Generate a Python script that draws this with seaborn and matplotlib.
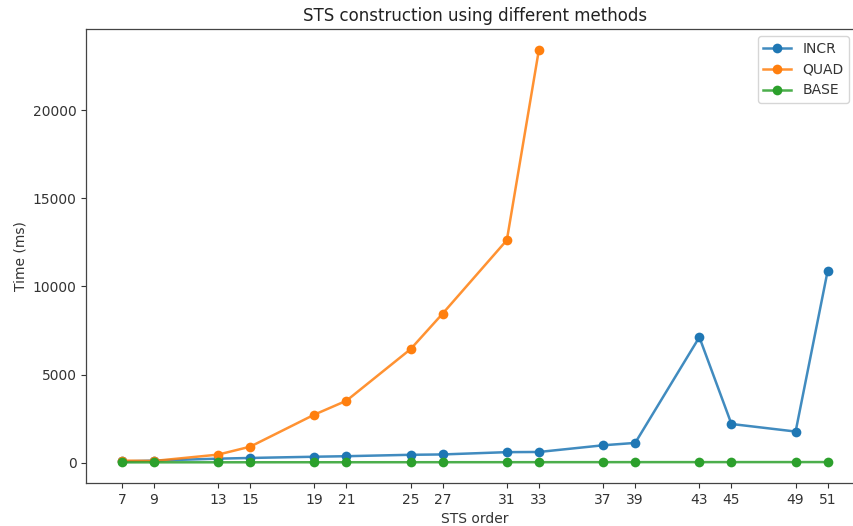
import matplotlib
matplotlib.use("Agg")
import matplotlib.pyplot as plt
import matplotlib.colors as mcolors
import seaborn as sns
import pandas as pd

# STS orders (v ≡ 1 or 3 mod 6)
orders = [7, 9, 13, 15, 19, 21, 25, 27, 31, 33, 37, 39, 43, 45, 49, 51]

# Construction times in milliseconds
incr_ms = [60, 110, 220, 260, 330, 360, 440, 460, 590, 600, 980, 1115, 7120, 2190, 1760, 10900]
quad_ms = [110, 90, 450, 900, 2720, 3510, 6440, 8460, 12630, 23450]
base_ms = [10, 12, 14, 15, 16, 17, 18, 19, 20, 21, 22, 23, 24, 25, 26, 27]

methods = ["INCR", "QUAD", "BASE"]
colors = ["#1f77b4", "#ff7f0e", "#2ca02c"]

frames = [
    pd.DataFrame({"order": orders, "time": incr_ms, "method": "INCR"}),
    pd.DataFrame({"order": orders[:len(quad_ms)], "time": quad_ms, "method": "QUAD"}),
    pd.DataFrame({"order": orders, "time": base_ms, "method": "BASE"}),
]
df = pd.concat(frames, ignore_index=True)

W, H = 854, 526
fig = plt.figure(figsize=(W / 100, H / 100), dpi=100)
ax = fig.add_axes([86.5 / W, 1 - 483 / H, (863 - 86.5) / W, (483 - 29) / H])

sns.lineplot(
    data=df, x="order", y="time", hue="method",
    hue_order=methods, palette=colors,
    marker="o", markersize=7, markeredgewidth=0, linewidth=1.8,
    ax=ax,
)

# slightly translucent connecting lines, solid markers
for line, c in zip(ax.lines, colors):
    line.set_color(mcolors.to_rgba(c, 0.85))
    line.set_markerfacecolor(c)
    line.set_markeredgecolor(c)

ax.set_xticks(orders)
ax.set_xticklabels([str(o) for o in orders])
ax.set_xlabel("STS order", color="#333333")
ax.set_ylabel("Time (ms)", color="#333333")
ax.set_title("STS construction using different methods", fontsize=12, color="#222222")
ax.tick_params(colors="#333333", labelcolor="#333333")

for sp in ax.spines.values():
    sp.set_color("#444444")
    sp.set_linewidth(0.9)

handles, labels = ax.get_legend_handles_labels()
for h, c in zip(handles, colors):
    h.set_color(mcolors.to_rgba(c, 0.85))
    h.set_markerfacecolor(c)
    h.set_markeredgecolor(c)
leg = ax.legend(
    handles, labels, loc="upper right",
    bbox_to_anchor=(849 / W, 1 - 36 / H), bbox_transform=fig.transFigure,
    borderaxespad=0, frameon=True,
)
for t in leg.get_texts():
    t.set_color("#333333")

fig.savefig("out.png", dpi=100)
